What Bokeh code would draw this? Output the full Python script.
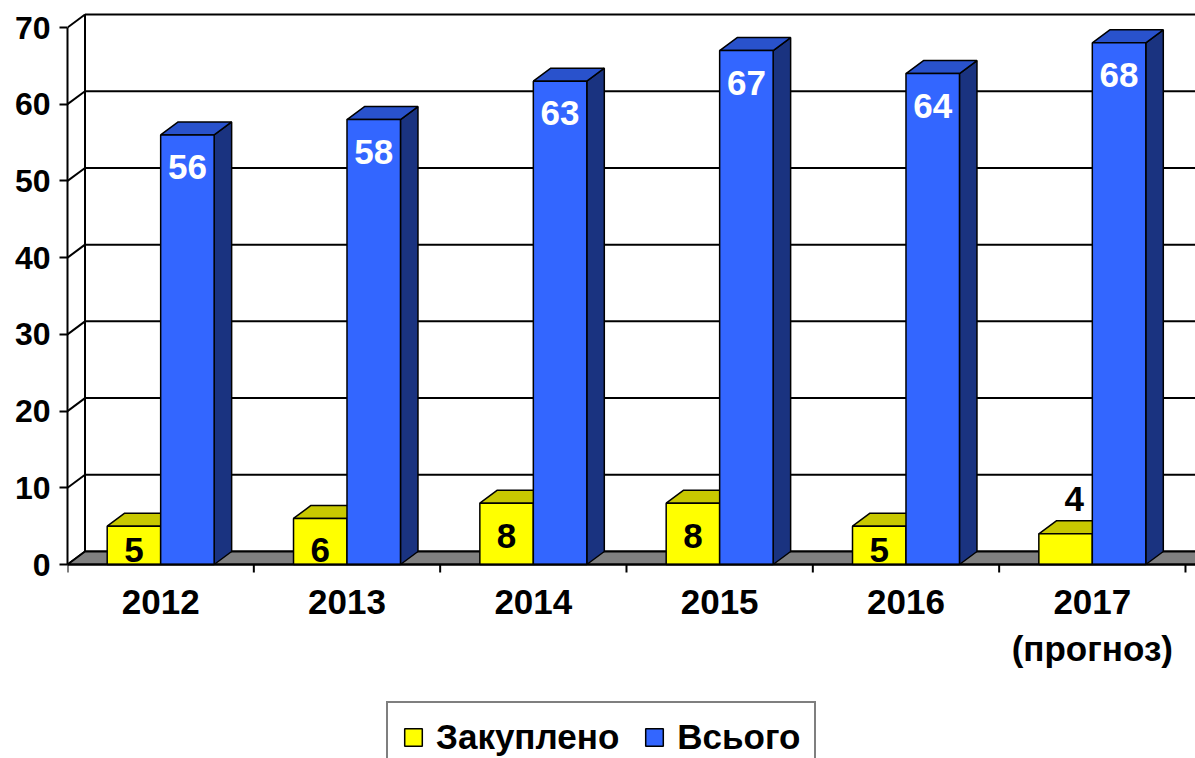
from bokeh.plotting import figure
from bokeh.models import (Range1d, FixedTicker, Legend, LegendItem, ColumnDataSource)
from bokeh.core.properties import value
from bokeh.embed import file_html
from bokeh.resources import INLINE

# ---------------- data ----------------
categories = ["2012", "2013", "2014", "2015", "2016", "2017\n(прогноз)"]
purchased = [5, 6, 8, 8, 5, 4]          # Закуплено
total = [56, 58, 63, 67, 64, 68]        # Всього
series_names = ["Закуплено", "Всього"]
y_ticks = [0, 10, 20, 30, 40, 50, 60, 70]

# ---------------- layout / style constants ----------------
FONT = "Liberation Sans"
W, H = 1195, 758
BORDER_LEFT, BORDER_TOP = 67, 2
ZERO_PX = 564                 # page y of value 0
PX_PER_CAT = 186.33
PX_PER_UNIT = 7.671
frame_w = W - BORDER_LEFT

n = len(categories)
HALF = 0.287                 # bar width in category units
DX = 17.5 / PX_PER_CAT       # depth offset (x, category units)
DY = 13.0 / PX_PER_UNIT      # depth offset (y, value units)
Y_MAX = y_ticks[-1]
TICK = 8 / PX_PER_UNIT
LINE1_TOP = -25 / PX_PER_UNIT   # top of first category-label line
LINE2_TOP = -64 / PX_PER_UNIT   # top of second line

colors = {
    "y_front": "#FFFF00", "y_top": "#C8C800", "y_side": "#808000",
    "b_front": "#3366FF", "b_top": "#2952CC", "b_side": "#1A3380",
}

p = figure(width=W, height=H, output_backend="svg", toolbar_location=None,
           x_range=Range1d(0, frame_w / PX_PER_CAT),
           y_range=Range1d(-(H - ZERO_PX) / PX_PER_UNIT, (ZERO_PX - BORDER_TOP) / PX_PER_UNIT),
           x_axis_location=None,
           min_border_left=BORDER_LEFT, min_border_right=0,
           min_border_top=BORDER_TOP, min_border_bottom=0)
p.outline_line_color = None
p.xgrid.visible = False
p.ygrid.visible = False
p.background_fill_color = "white"

# ---------------- walls ----------------
grid_xs = [[DX, n + DX + 1] for t in y_ticks]
grid_ys = [[t + DY, t + DY] for t in y_ticks]
p.multi_line(grid_xs, grid_ys, line_color="black", line_width=2)
diag_xs = [[0, DX] for t in y_ticks]
diag_ys = [[t, t + DY] for t in y_ticks]
p.multi_line(diag_xs, diag_ys, line_color="black", line_width=2)
p.line([DX, DX], [DY, Y_MAX + DY], line_color="black", line_width=2)

# floor
p.patch([0, n + 1, n + 1 + DX, DX], [0, 0, DY, DY], fill_color="#808080",
        line_color="black", line_width=2)

# category boundary ticks (x axis)
bounds_x = list(range(n + 1))
p.segment(x0=bounds_x, y0=[0] * (n + 1), x1=bounds_x, y1=[-TICK] * (n + 1),
          line_color="black", line_width=2)

# ---------------- bars ----------------
centers = [i + 0.5 for i in range(n)]


def faces(lefts, rights, vals):
    top_xs, top_ys, side_xs, side_ys = [], [], [], []
    for x0, x1, v in zip(lefts, rights, vals):
        top_xs.append([x0, x1, x1 + DX, x0 + DX])
        top_ys.append([v, v, v + DY, v + DY])
        side_xs.append([x1, x1 + DX, x1 + DX, x1])
        side_ys.append([0, DY, v + DY, v])
    return top_xs, top_ys, side_xs, side_ys


renderers = {}
for key, vals, lefts, rights in [
        ("y", purchased, [c - HALF for c in centers], centers),
        ("b", total, centers, [c + HALF for c in centers])]:
    txs, tys, sxs, sys_ = faces(lefts, rights, vals)
    p.patches(sxs, sys_, fill_color=colors[key + "_side"], line_color="black", line_width=1.5)
    p.patches(txs, tys, fill_color=colors[key + "_top"], line_color="black", line_width=1.5)
    src = ColumnDataSource(dict(left=lefts, right=rights, bottom=[0] * n, top=vals))
    renderers[key] = p.quad(left="left", right="right", bottom="bottom", top="top",
                            source=src, fill_color=colors[key + "_front"],
                            line_color="black", line_width=1.5)

# front-floor edge redrawn on top (x axis line)
p.line([0, n + 1], [0, 0], line_color="black", line_width=2)

# ---------------- data labels ----------------
lab_x, lab_y, lab_t, lab_c = [], [], [], []
for c, v in zip(centers, purchased):
    mid = c - HALF / 2
    if v < 5:
        lab_x.append(mid + DX / 2)
        lab_y.append(v + 4.6)
    else:
        lab_x.append(mid)
        lab_y.append(max(v - 4.3, 1.85))
    lab_t.append(str(v))
    lab_c.append("black")
for c, v in zip(centers, total):
    lab_x.append(c + HALF / 2)
    lab_y.append(v - 4.2)
    lab_t.append(str(v))
    lab_c.append("white")
p.text(x="x", y="y", text="text", text_color="color",
       source=ColumnDataSource(dict(x=lab_x, y=lab_y, text=lab_t, color=lab_c)),
       text_font=value(FONT), text_font_style="bold", text_font_size="35px",
       text_align="center", text_baseline="middle")

# category labels (one text per line so first lines stay aligned)
cx, cy, ct = [], [], []
for c, lab in zip(centers, categories):
    for k, part in enumerate(lab.split("\n")):
        cx.append(c)
        cy.append(LINE1_TOP if k == 0 else LINE2_TOP)
        ct.append(part)
p.text(x=cx, y=cy, text=ct, text_color="black",
       text_font=value(FONT), text_font_style="bold", text_font_size="35px",
       text_align="center", text_baseline="top")

# ---------------- y axis ----------------
ya = p.yaxis[0]
ya.ticker = FixedTicker(ticks=y_ticks)
ya.bounds = (0, Y_MAX)
ya.major_tick_out = 8
ya.major_tick_in = 0
ya.minor_tick_line_color = None
ya.axis_line_width = 2
ya.major_tick_line_width = 2
ya.major_label_standoff = 9
ya.major_label_text_font = FONT
ya.major_label_text_font_style = "bold"
ya.major_label_text_font_size = "32px"
ya.major_label_text_color = "black"

# ---------------- legend ----------------
legend = Legend(items=[LegendItem(label=series_names[0], renderers=[renderers["y"]]),
                       LegendItem(label=series_names[1], renderers=[renderers["b"]])],
                orientation="horizontal", location=(319, -15),
                border_line_color="black", border_line_width=2,
                label_text_font=FONT, label_text_font_style="bold",
                label_text_color="black",
                label_text_font_size="35px", glyph_width=22, glyph_height=22,
                padding=14, spacing=24, label_standoff=12, margin=0)
p.add_layout(legend)

open("out.html", "w").write(file_html(p, INLINE))
